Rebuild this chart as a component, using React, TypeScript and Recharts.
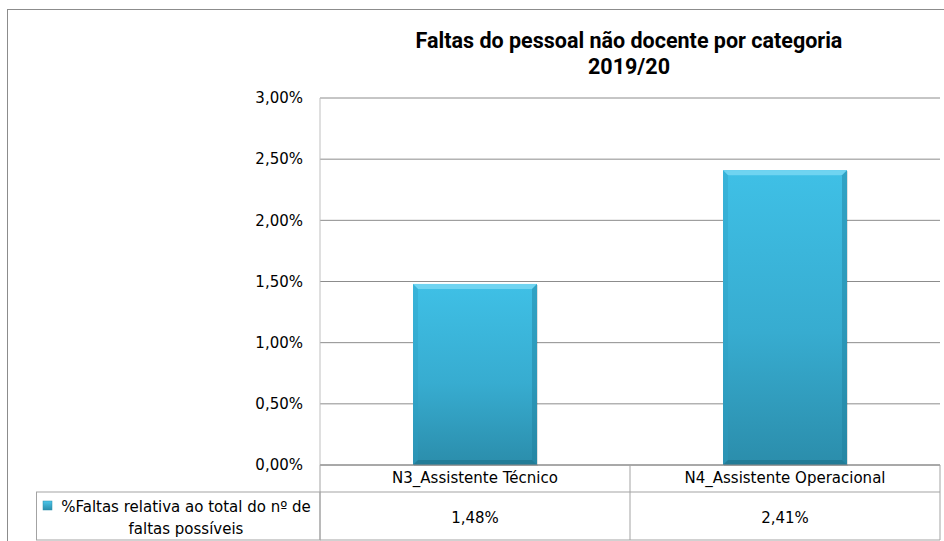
import React from 'react';
import { BarChart, Bar, XAxis, YAxis, CartesianGrid } from 'recharts';

const categories = ['N3_Assistente Técnico', 'N4_Assistente Operacional'];
const faltasPct = [1.48, 2.41];
const yTicks = [0, 0.5, 1, 1.5, 2, 2.5, 3];
const legendLines = ['%Faltas relativa ao total do nº de', 'faltas possíveis'];
const titleLines = ['Faltas do pessoal não docente por categoria', '2019/20'];

const data = categories.map((categoria, i) => ({ categoria, valor: faltasPct[i] }));

const FONT = '"DejaVu Sans", sans-serif';
const TABLE_LINE = '#a3a3a3';

const fmt = (v: number) => `${v.toFixed(2).replace('.', ',')}%`;

function BevelBar(props: any) {
  const { x, y, width, height } = props;
  if (!width || !height || height <= 0) return <g />;
  const b = 5;
  return (
    <g>
      <rect x={x + 1} y={y + 1} width={width} height={height} fill="#000" opacity={0.12} />
      <rect x={x} y={y} width={width} height={height} fill="url(#barFill)" />
      <polygon
        points={`${x},${y} ${x + width},${y} ${x + width - b},${y + b} ${x + b},${y + b}`}
        fill="#74d6f2"
        opacity={0.9}
      />
      <polygon
        points={`${x},${y} ${x + b},${y + b} ${x + b},${y + height - b} ${x},${y + height}`}
        fill="#2a9ec2"
        opacity={0.35}
      />
      <polygon
        points={`${x + width},${y} ${x + width - b},${y + b} ${x + width - b},${y + height - b} ${x + width},${y + height}`}
        fill="#1f7f9c"
        opacity={0.45}
      />
      <polygon
        points={`${x},${y + height} ${x + b},${y + height - b} ${x + width - b},${y + height - b} ${x + width},${y + height}`}
        fill="#1c6f88"
        opacity={0.6}
      />
    </g>
  );
}

function TableTick(props: any) {
  const { x, y, payload, index } = props;
  const half = payload?.offset ? payload.offset : 155;
  const left = x - half;
  const right = x + half;
  const rowTop = y + 27;
  const bottom = y + 75;
  return (
    <g>
      <text x={x} y={y + 18} textAnchor="middle" fontFamily={FONT} fontSize={15} fill="#000">
        {payload.value}
      </text>
      <text x={x} y={y + 58} textAnchor="middle" fontFamily={FONT} fontSize={15} fill="#000">
        {fmt(faltasPct[index])}
      </text>
      <line x1={left} x2={right} y1={rowTop} y2={rowTop} stroke={TABLE_LINE} />
      <line x1={left} x2={right} y1={bottom} y2={bottom} stroke={TABLE_LINE} />
      <line x1={right} x2={right} y1={y} y2={bottom} stroke={TABLE_LINE} />
      {index === 0 && (
        <g>
          <line x1={left} x2={left} y1={y} y2={bottom} stroke={TABLE_LINE} />
          <rect x={36.5} y={rowTop} width={left - 36.5} height={bottom - rowTop} fill="none" stroke={TABLE_LINE} />
          <rect x={43} y={rowTop + 9} width={9} height={9} fill="url(#keyFill)" stroke="#2b8fac" strokeWidth={0.5} />
          <text x={186} y={rowTop + 20} textAnchor="middle" fontFamily={FONT} fontSize={15} fill="#000">
            {legendLines[0]}
          </text>
          <text x={186} y={rowTop + 42} textAnchor="middle" fontFamily={FONT} fontSize={15} fill="#000">
            {legendLines[1]}
          </text>
        </g>
      )}
    </g>
  );
}

export default function App() {
  return (
    <div style={{ position: 'absolute', left: 0, top: 0, width: 944, height: 541, background: '#fff' }}>
      <svg width={944} height={541} style={{ position: 'absolute', left: 0, top: 0 }}>
        <rect x={7.5} y={9.5} width={960} height={560} fill="#fff" stroke="#8c8c8c" />
        <text x={629} y={48} textAnchor="middle" fontFamily="Roboto, sans-serif" fontWeight={700} fontSize={21.5} fill="#000">
          {titleLines[0]}
        </text>
        <text x={629} y={74} textAnchor="middle" fontFamily="Roboto, sans-serif" fontWeight={700} fontSize={21.5} fill="#000">
          {titleLines[1]}
        </text>
      </svg>
      <div style={{ position: 'absolute', left: 0, top: 0 }}>
        <BarChart
          width={944}
          height={541}
          data={data}
          margin={{ top: 98, right: 4, bottom: 46, left: 260 }}
          barCategoryGap="30%"
        >
          <defs>
            <linearGradient id="barFill" x1="0" y1="0" x2="0" y2="1">
              <stop offset="0%" stopColor="#3fc0e6" />
              <stop offset="55%" stopColor="#37acd0" />
              <stop offset="100%" stopColor="#2b8dab" />
            </linearGradient>
            <linearGradient id="keyFill" x1="0" y1="0" x2="0" y2="1">
              <stop offset="0%" stopColor="#4cc6ea" />
              <stop offset="100%" stopColor="#2b8dab" />
            </linearGradient>
          </defs>
          <CartesianGrid vertical={false} stroke="#8c8c8c" />
          <YAxis
            width={60}
            domain={[0, 3]}
            ticks={yTicks}
            interval={0}
            tickFormatter={fmt}
            axisLine={{ stroke: '#bfbfbf' }}
            tickLine={false}
            tickSize={0}
            tickMargin={17}
            tick={{ fill: '#000', fontSize: 15, fontFamily: FONT }}
          />
          <XAxis
            dataKey="categoria"
            height={30}
            axisLine={{ stroke: '#8c8c8c' }}
            tickLine={false}
            tickSize={0}
            tickMargin={0}
            interval={0}
            tick={<TableTick />}
          />
          <Bar dataKey="valor" shape={<BevelBar />} isAnimationActive={false} />
        </BarChart>
      </div>
    </div>
  );
}
